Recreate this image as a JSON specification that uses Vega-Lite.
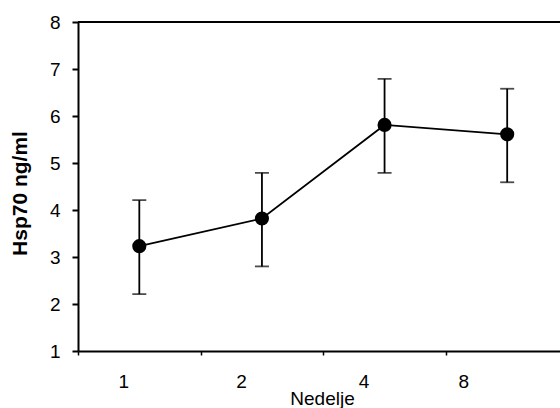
{
  "$schema": "https://vega.github.io/schema/vega-lite/v6.json",
  "width": 482,
  "height": 329,
  "autosize": {"type": "none"},
  "padding": {"left": 78, "top": 22, "right": 0, "bottom": 57},
  "background": "white",
  "config": {
    "view": {"stroke": null},
    "font": "Liberation Sans",
    "axis": {"grid": false, "domainColor": "black", "tickColor": "black", "labelColor": "black", "titleColor": "black", "domainWidth": 2}
  },
  "data": {"values": [
    {"week": "1", "mean": 3.23, "lo": 2.21, "hi": 4.21},
    {"week": "2", "mean": 3.82, "lo": 2.80, "hi": 4.79},
    {"week": "4", "mean": 5.81, "lo": 4.79, "hi": 6.79},
    {"week": "8", "mean": 5.61, "lo": 4.59, "hi": 6.58}
  ]},
  "layer": [
    {
      "mark": {"type": "rule", "color": "black", "strokeWidth": 1.8},
      "encoding": {
        "x": {"field": "week", "type": "ordinal", "sort": null,
          "scale": {"type": "band", "range": [0, 490.5], "paddingInner": 0, "paddingOuter": 0},
          "axis": {
            "title": "Nedelje", "titleFontSize": 19, "titleFontWeight": "normal",
            "titleX": 244, "titleY": 53, "titleAlign": "center", "titleBaseline": "alphabetic",
            "labelFontSize": 19, "labelAngle": 0, "tickBand": "extent", "tickSize": 4, "tickWidth": 1.5,
            "labelPadding": 17,
            "labelOffset": {"condition": [{"test": "datum.value == '8'", "value": -44}, {"test": "datum.value == '1'", "value": -16}], "value": -21}
          }
        },
        "y": {"field": "lo", "type": "quantitative",
          "scale": {"domain": [1, 8], "nice": false, "zero": false},
          "axis": {
            "values": [1, 2, 3, 4, 5, 6, 7, 8],
            "title": "Hsp70 ng/ml", "titleFontWeight": "bold", "titleFontSize": 21,
            "titleAngle": 270, "titleAlign": "center", "titleBaseline": "alphabetic",
            "titleX": -52, "titleY": 171,
            "labelFontSize": 19, "tickSize": 6, "tickWidth": 2, "labelPadding": 12
          }
        },
        "y2": {"field": "hi"}
      }
    },
    {
      "mark": {"type": "tick", "color": "black", "size": 14, "thickness": 1.8, "orient": "horizontal"},
      "encoding": {
        "x": {"field": "week", "type": "ordinal", "sort": null},
        "y": {"field": "lo", "type": "quantitative"}
      }
    },
    {
      "mark": {"type": "tick", "color": "black", "size": 14, "thickness": 1.8, "orient": "horizontal"},
      "encoding": {
        "x": {"field": "week", "type": "ordinal", "sort": null},
        "y": {"field": "hi", "type": "quantitative"}
      }
    },
    {
      "mark": {"type": "line", "color": "black", "strokeWidth": 1.8},
      "encoding": {
        "x": {"field": "week", "type": "ordinal", "sort": null},
        "y": {"field": "mean", "type": "quantitative"}
      }
    },
    {
      "mark": {"type": "circle", "color": "black", "size": 200, "opacity": 1},
      "encoding": {
        "x": {"field": "week", "type": "ordinal", "sort": null},
        "y": {"field": "mean", "type": "quantitative"}
      }
    },
    {
      "mark": {"type": "rule", "color": "black", "strokeWidth": 2},
      "encoding": {
        "y": {"datum": 8, "type": "quantitative"}
      }
    }
  ]
}
